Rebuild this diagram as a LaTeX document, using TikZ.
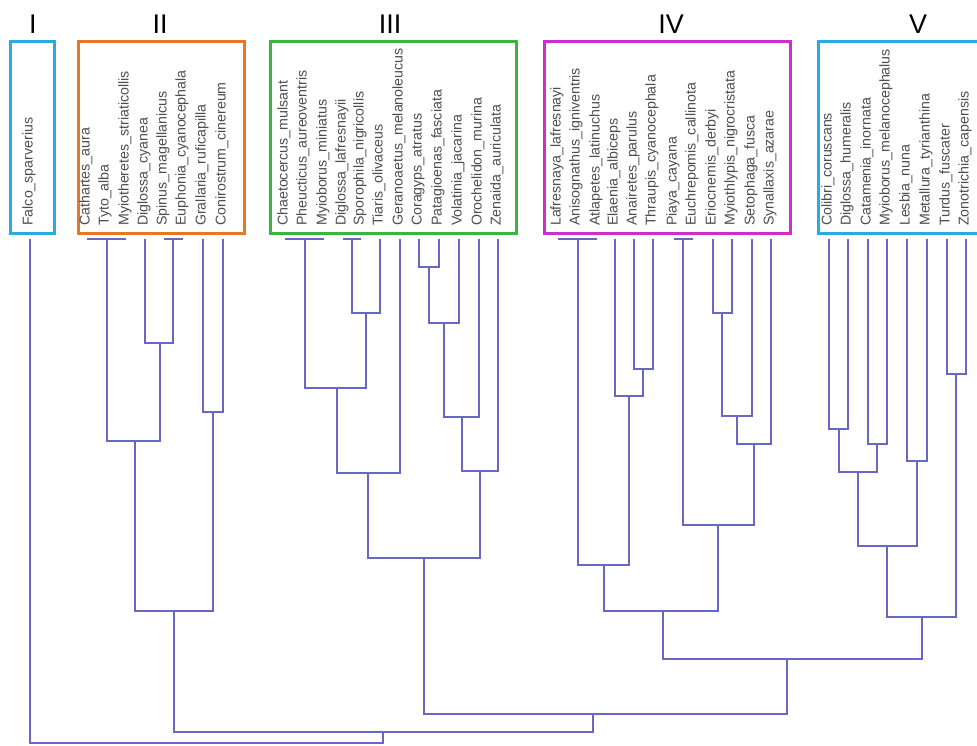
\documentclass[tikz,border=0pt]{standalone}
\usepackage{fontspec}
\setmainfont{Liberation Sans}
\begin{document}
\definecolor{treeblue}{RGB}{104,104,196}
\definecolor{labgray}{RGB}{78,78,78}
\definecolor{cI}{RGB}{40,172,222}
\definecolor{cII}{RGB}{232,118,36}
\definecolor{cIII}{RGB}{58,182,62}
\definecolor{cIV}{RGB}{206,46,206}
\definecolor{cV}{RGB}{40,172,222}
\begin{tikzpicture}[x=1pt,y=-1pt,
  branch/.style={draw=treeblue,line width=1.6pt,line join=miter},
  leaflabel/.style={rotate=90,anchor=mid west,inner sep=0pt,text=labgray,
    font=\fontsize{14.2}{16}\selectfont},
  grpbox/.style={draw,line width=3pt,minimum height=192pt,inner sep=0pt},
  grplabel/.style={inner sep=0pt,font=\fontsize{27}{30}\selectfont},
]
\fill[white] (0,0) rectangle (977,745);
\useasboundingbox (0,0) rectangle (977,745);

% clade boxes and their numerals
\node[grpbox,draw=cI,minimum width=44pt]  (boxI)   at (32,137.5)  {};
\node[grpbox,draw=cII,minimum width=166pt] (boxII)  at (161,137.5) {};
\node[grpbox,draw=cIII,minimum width=246pt] (boxIII) at (393.5,137.5) {};
\node[grpbox,draw=cIV,minimum width=246pt] (boxIV)  at (667.5,137.5) {};
\node[grpbox,draw=cV,minimum width=170pt] (boxV)   at (903,137.5) {};
\node[grplabel] (labI)   at (33,24)  {I};
\node[grplabel] (labII)  at (160,24) {II};
\node[grplabel] (labIII) at (390,24) {III};
\node[grplabel] (labIV)  at (671,24) {IV};
\node[grplabel] (labV)   at (918,24) {V};

% leaves: name / x / species
\foreach \n/\x/\t in {
  f1/30/Falco\_sparverius,
  c1/87/Cathartes\_aura, c2/106/Tyto\_alba,
  c3/126/Myiotheretes\_striaticollis, c4/145/Diglossa\_cyanea,
  c5/164/Spinus\_magellanicus, c6/183/Euphonia\_cyanocephala,
  c7/203/Grallaria\_ruficapilla, c8/223/Conirostrum\_cinereum,
  t1/285/Chaetocercus\_mulsant, t2/304/Pheucticus\_aureoventris,
  t3/324/Myioborus\_miniatus, t4/343/Diglossa\_lafresnayii,
  t5/361/Sporophila\_nigricollis, t6/380/Tiaris\_olivaceus,
  t7/400/Geranoaetus\_melanoleucus, t8/419/Coragyps\_atratus,
  t9/439/Patagioenas\_fasciata, t10/459/Volatinia\_jacarina,
  t11/479/Orochelidon\_murina, t12/498/Zenaida\_auriculata,
  v1/558/Lafresnaya\_lafresnayi, v2/577/Anisognathus\_igniventris,
  v3/597/Atlapetes\_latinuchus, v4/615/Elaenia\_albiceps,
  v5/634/Anairetes\_parulus, v6/653/Thraupis\_cyanocephala,
  v7/674/Piaya\_cayana, v8/693/Euchrepomis\_callinota,
  v9/713/Eriocnemis\_derbyi, v10/732/Myiothlypis\_nigrocristata,
  v11/752/Setophaga\_fusca, v12/771/Synallaxis\_azarae,
  w1/829/Colibri\_coruscans, w2/848/Diglossa\_humeralis,
  w3/868/Catamenia\_inornata, w4/887/Myioborus\_melanocephalus,
  w5/907/Lesbia\_nuna, w6/927/Metallura\_tyrianthina,
  w7/947/Turdus\_fuscater, w8/966/Zonotrichia\_capensis}{
  \coordinate (\n) at (\x,239);
  \node[leaflabel] (\n-lab) at (\x,226) {\t};
}

% internal nodes of the dendrogram: name / x / joining height
\foreach \n/\x/\y in {
  n2a/107/239, n2b/173/239, n2c/160/343, n2d/135/441, n2e/213/412, n2/174/611,
  n3a/305/239, n3b/352/239, n3c/366/313, n3d/337/388, n3e/368/473,
  n3f/429/267, n3g/444/323, n3h/462/417, n3i/480/471, n3/424/558,
  n4a/578/239, n4b/643/369, n4c/629/396, n4d/604/565,
  n4e/683/239, n4f/722/313, n4g/737/416, n4h/754/444, n4i/718/525, n4/663/611,
  n5a/839/429, n5b/877/444, n5c/858/472, n5d/917/461, n5e/887/546,
  n5f/956/374, n5/922/617,
  nC/787/659, nB/593/714, nA/383/732, root/206/743}{
  \coordinate (\n) at (\x,\y);
}

% branches: child / parent
\foreach \c/\p in {
  c1/n2a, c2/n2a, c3/n2a, c5/n2b, c6/n2b, c4/n2c, n2b/n2c,
  n2a/n2d, n2c/n2d, c7/n2e, c8/n2e, n2d/n2, n2e/n2,
  t1/n3a, t2/n3a, t3/n3a, t4/n3b, t5/n3b, n3b/n3c, t6/n3c,
  n3a/n3d, n3c/n3d, n3d/n3e, t7/n3e,
  t8/n3f, t9/n3f, n3f/n3g, t10/n3g, n3g/n3h, t11/n3h, n3h/n3i, t12/n3i,
  n3e/n3, n3i/n3,
  v1/n4a, v2/n4a, v3/n4a, v5/n4b, v6/n4b, v4/n4c, n4b/n4c,
  n4a/n4d, n4c/n4d,
  v7/n4e, v8/n4e, v9/n4f, v10/n4f, n4f/n4g, v11/n4g, n4g/n4h, v12/n4h,
  n4e/n4i, n4h/n4i, n4d/n4, n4i/n4,
  w1/n5a, w2/n5a, w3/n5b, w4/n5b, n5a/n5c, n5b/n5c, w5/n5d, w6/n5d,
  n5c/n5e, n5d/n5e, w7/n5f, w8/n5f, n5e/n5, n5f/n5,
  n4/nC, n5/nC, n3/nB, nC/nB, n2/nA, nB/nA, f1/root, nA/root}{
  \draw[branch] (\c) |- (\p);
}
\end{tikzpicture}
\end{document}
